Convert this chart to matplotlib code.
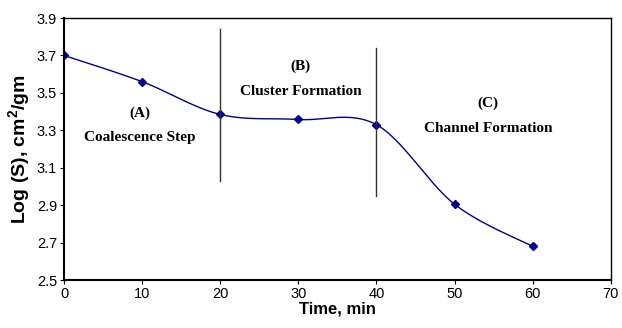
import numpy as np
import matplotlib.pyplot as plt

time_min = [0, 10, 20, 30, 40, 50, 60]
log_s = [3.70, 3.56, 3.385, 3.358, 3.33, 2.905, 2.68]

# stage dividers: (x, y_bottom, y_top)
dividers = [(20, 3.03, 3.84), (40, 2.95, 3.74)]

stage_labels = [
    (9.7, 3.39, "(A)"), (9.7, 3.26, "Coalescence Step"),
    (30.3, 3.64, "(B)"), (30.3, 3.51, "Cluster Formation"),
    (54.3, 3.445, "(C)"), (54.3, 3.31, "Channel Formation"),
]


def smooth_curve(x, y, n=30):
    # Excel style smoothed line (cubic bezier, Catmull-Rom control points)
    x = np.asarray(x, float)
    y = np.asarray(y, float)
    px = np.concatenate([[x[0]], x, [x[-1]]])
    py = np.concatenate([[y[0]], y, [y[-1]]])
    xs, ys = [], []
    for i in range(1, len(px) - 2):
        p0 = np.array([px[i], py[i]])
        p3 = np.array([px[i + 1], py[i + 1]])
        p1 = p0 + (p3 - np.array([px[i - 1], py[i - 1]])) / 6
        p2 = p3 - (np.array([px[i + 2], py[i + 2]]) - p0) / 6
        t = np.linspace(0, 1, n)[:, None]
        b = (1 - t) ** 3 * p0 + 3 * (1 - t) ** 2 * t * p1 + 3 * (1 - t) * t ** 2 * p2 + t ** 3 * p3
        xs.extend(b[:, 0])
        ys.extend(b[:, 1])
    return xs, ys


plt.rcParams['font.family'] = ['Liberation Sans', 'DejaVu Sans']
plt.rcParams['mathtext.fontset'] = 'custom'
plt.rcParams['mathtext.bf'] = 'Liberation Sans:bold'

fig = plt.figure(figsize=(6.22, 3.28), dpi=100)
ax = fig.add_axes([0.103, 0.146, 0.879, 0.799])

sx, sy = smooth_curve(time_min, log_s)
ax.plot(sx, sy, color='#00008B', lw=1.0)
ax.plot(time_min, log_s, 'D', color='#00008B', ms=4)

for x, y0, y1 in dividers:
    ax.plot([x, x], [y0, y1], color='#333333', lw=1.0)

for x, y, s in stage_labels:
    ax.text(x, y, s, ha='center', va='center', fontsize=11, fontweight='bold',
            family=['Liberation Serif', 'DejaVu Serif'])

ax.set_xlim(0, 70)
ax.set_ylim(2.5, 3.9)
ax.set_xticks(range(0, 71, 10))
ax.set_yticks(np.arange(2.5, 3.91, 0.2))
ax.set_yticklabels([f"{v:.1f}" for v in np.arange(2.5, 3.91, 0.2)])
ax.tick_params(labelsize=10.5, direction='out', length=3, pad=2)
for sp in ax.spines.values():
    sp.set_linewidth(1.0)
ax.spines['left'].set_linewidth(1.5)
ax.spines['bottom'].set_linewidth(1.5)

ax.set_xlabel("Time, min", fontsize=12, fontweight='bold', labelpad=0)
ax.set_ylabel("Log (S), cm$^{\\mathbf{2}}$/gm", fontsize=14, fontweight='bold', labelpad=3)

fig.savefig("out.png", dpi=100)
